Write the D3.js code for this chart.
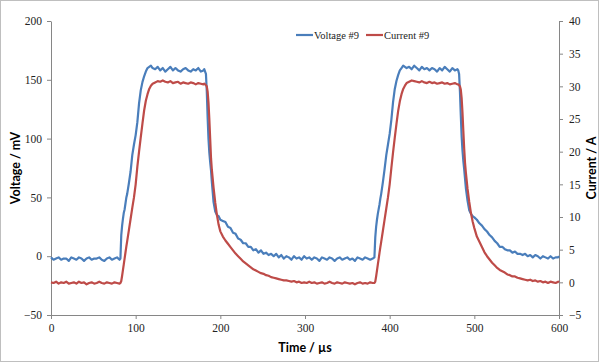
<!DOCTYPE html>
<html>
<head>
<meta charset="utf-8">
<script src="https://cdn.jsdelivr.net/npm/d3@7/dist/d3.min.js"></script>
<style>
  body { margin: 0; background: #fff; }
  .tick text { font-family: "Liberation Serif", serif; font-size: 11.5px; fill: #222; }
  .axis path, .axis line { stroke: #868686; }
  .title { font-family: Lato, "Liberation Sans", sans-serif; font-weight: bold; font-size: 12.5px; fill: #000; }
  .legend text { font-family: "Liberation Serif", serif; font-size: 10.5px; fill: #222; }
</style>
</head>
<body>
<div id="chart"></div>
<script>
// time in µs, voltage in mV (left axis), current in A (right axis)
const timeUs = [
  0,3,6,9,12,15,18,21,24,27,30,33,36,39,42,45,48,51,54,57,60,63,66,69,72,75,78,81,
  82,83,84,85,86,87,88,89,90,92,94,96,98,100,102,104,106,108,110,112,114,116,118,120,
  123,126,129,132,135,138,141,144,147,150,153,156,159,162,165,168,171,174,177,180,
  181,182,183,184,185,186,187,188,189,190,192,194,196,198,200,
  203,206,209,212,215,218,221,224,227,230,233,236,239,242,245,248,251,254,257,260,
  263,266,269,272,275,278,281,284,287,290,293,296,299,302,305,308,311,314,317,320,
  323,326,329,332,335,338,341,344,347,350,353,356,359,362,365,368,371,374,377,380,
  382,383,384,385,386,387,388,389,390,392,394,396,398,400,402,404,406,408,410,412,414,416,418,420,
  423,426,429,432,435,438,441,444,447,450,453,456,459,462,465,468,471,474,477,480,
  481,482,483,484,485,486,487,488,489,490,492,494,496,498,500,
  503,506,509,512,515,518,521,524,527,530,533,536,539,542,545,548,551,554,557,560,
  563,566,569,572,575,578,581,584,587,590,593,596,599,600
];

const voltage = [
  -1,-3,-2,-1,-3,-2,-2,-4,-1,-2,-3,-1,-2,-4,-2,-1,-3,-2,-2,-1,-3,-4,-2,-1,-3,-2,-1,-3,
  -2,18,26,32,37,40,45,50,53,62,72,86,95,103,114,130,141,148,153,157,160,161,162,160,
  159,161,158,160,157,159,161,158,160,158,157,159,160,158,157,159,158,160,157,158,
  159,157,155,140,118,100,88,80,73,63,46,38,35,34,31,
  30,29,25,24,20,19,15,14,11,11,8,8,5,6,3,5,2,3,1,2,
  0,2,-1,1,-2,0,-1,-3,0,-2,-1,-3,0,-2,-1,-3,-1,-2,-4,-1,
  -2,-3,-1,-2,-4,-2,-1,-3,-2,-1,-3,-2,-4,-1,-2,-3,-1,-2,-3,-2,
  -1,16,25,31,36,40,44,49,53,63,74,86,95,104,116,131,142,149,154,158,160,162,161,160,
  161,159,162,160,158,161,159,160,158,160,159,157,160,158,161,159,157,160,158,159,
  158,155,140,120,102,90,81,74,66,58,47,39,36,34,33,
  31,28,26,23,21,18,16,13,11,8,8,6,5,5,3,4,2,2,1,2,
  0,1,-1,1,0,-2,0,-1,-2,0,-2,-1,-1,0
];

const current = [
  0,-0.1,0.1,-0.2,0,-0.1,0.1,-0.2,-0.1,0,-0.2,0.1,-0.1,0,-0.3,-0.1,0,-0.2,-0.1,0.1,-0.1,-0.2,0,-0.1,-0.2,0,-0.1,-0.2,
  -0.1,0.2,1.0,1.9,2.8,3.7,4.6,5.5,6.3,8.0,9.7,11.4,13.0,15.0,17.7,20.0,22.2,24.3,26.3,27.8,28.8,29.6,30.1,30.4,
  30.6,30.8,30.7,30.9,30.7,30.6,30.8,30.5,30.6,30.7,30.4,30.6,30.5,30.4,30.6,30.5,30.3,30.5,30.4,30.3,
  30.4,30.3,30.2,30.0,29.2,27.5,25.0,22.0,19.0,17.2,14.5,12.2,10.3,8.8,7.8,
  7.0,6.4,5.9,5.4,4.9,4.4,4.0,3.6,3.2,2.9,2.6,2.3,2.0,1.8,1.6,1.4,1.3,1.1,1.0,0.8,
  0.7,0.6,0.5,0.4,0.3,0.3,0.2,0.1,0.2,0,0.1,-0.1,0,-0.1,0.1,-0.1,0,-0.2,-0.1,0,
  -0.2,-0.1,0.1,-0.1,-0.2,0,-0.1,-0.2,0,-0.1,-0.2,-0.1,-0.3,-0.1,0,-0.2,-0.1,-0.2,0,-0.1,
  -0.1,0.1,0.9,1.8,2.7,3.6,4.5,5.4,6.2,7.9,9.6,11.3,13.0,15.0,17.5,19.9,22.1,24.2,26.2,27.7,28.8,29.6,30.1,30.5,
  30.7,30.9,30.8,30.7,30.6,30.8,30.6,30.5,30.7,30.5,30.6,30.4,30.5,30.6,30.4,30.5,30.3,30.4,30.5,30.3,
  30.3,30.2,30.0,29.5,28.2,26.0,23.2,20.5,18.3,16.8,14.3,12.3,10.6,9.3,8.3,
  7.0,6.2,5.4,4.6,4.0,3.5,3.0,2.6,2.2,1.9,1.7,1.5,1.2,1.1,0.9,0.9,0.7,0.6,0.5,0.4,
  0.3,0.4,0.2,0.3,0.1,0.2,0,0.1,-0.1,0.1,0,-0.1,0.1,0
];

const xTicks = [0,100,200,300,400,500,600];
const voltTicks = [-50,0,50,100,150,200];
const currTicks = [-5,0,5,10,15,20,25,30,35,40];
const seriesNames = ["Voltage #9","Current #9"];
const colors = ["#4a7ebb","#be4b48"];

const w = 600, h = 363;
const svg = d3.select("#chart").append("svg")
    .attr("width", w)
    .attr("height", h);

//outer frame
svg.append("rect")
    .attr("x",0.5).attr("y",0.5)
    .attr("width",w-2).attr("height",h-2)
    .attr("fill","#fff")
    .attr("stroke","#bfbfbf");

const x = d3.scaleLinear().domain([0,600]).range([51,559]);
const yV = d3.scaleLinear().domain([-50,200]).range([315,21]);
const yI = d3.scaleLinear().domain([-5,40]).range([315,21]);

const xAxis = svg.append("g").attr("class","axis")
    .attr("transform","translate(0,315)")
    .call(d3.axisBottom(x).tickValues(xTicks).tickSize(4).tickSizeOuter(0).tickPadding(5));

const leftAxis = svg.append("g").attr("class","axis")
    .attr("transform","translate(51,0)")
    .call(d3.axisLeft(yV).tickValues(voltTicks).tickSize(4).tickSizeOuter(0).tickPadding(5));

const rightAxis = svg.append("g").attr("class","axis")
    .attr("transform","translate(559,0)")
    .call(d3.axisRight(yI).tickValues(currTicks).tickSize(4).tickSizeOuter(0).tickPadding(6));

const pts = timeUs.map((t,i)=>({t:t, v:voltage[i], a:current[i]}));

const lineV = d3.line().x(d=>x(d.t)).y(d=>yV(d.v));
const lineI = d3.line().x(d=>x(d.t)).y(d=>yI(d.a));

svg.append("path")
    .datum(pts)
    .attr("d",lineV)
    .attr("fill","none")
    .attr("stroke",colors[0])
    .attr("stroke-width",2.2)
    .attr("stroke-linejoin","round");

svg.append("path")
    .datum(pts)
    .attr("d",lineI)
    .attr("fill","none")
    .attr("stroke",colors[1])
    .attr("stroke-width",2.2)
    .attr("stroke-linejoin","round");

//axis titles
svg.append("text").attr("class","title")
    .attr("transform","translate(20,168) rotate(-90)")
    .attr("text-anchor","middle")
    .text("Voltage / mV");

svg.append("text").attr("class","title")
    .attr("transform","translate(596,168) rotate(-90)")
    .attr("text-anchor","middle")
    .text("Current / A");

svg.append("text").attr("class","title")
    .attr("x",305).attr("y",352)
    .attr("text-anchor","middle")
    .text("Time / µs");

//legend
const legend = svg.append("g").attr("class","legend");
const legX = [296,366];
seriesNames.forEach((name,i)=>{
    legend.append("line")
        .attr("x1",legX[i]).attr("x2",legX[i]+17)
        .attr("y1",35).attr("y2",35)
        .attr("stroke",colors[i])
        .attr("stroke-width",2.2);
    legend.append("text")
        .attr("x",legX[i]+18).attr("y",38.5)
        .text(name);
});
</script>
</body>
</html>
